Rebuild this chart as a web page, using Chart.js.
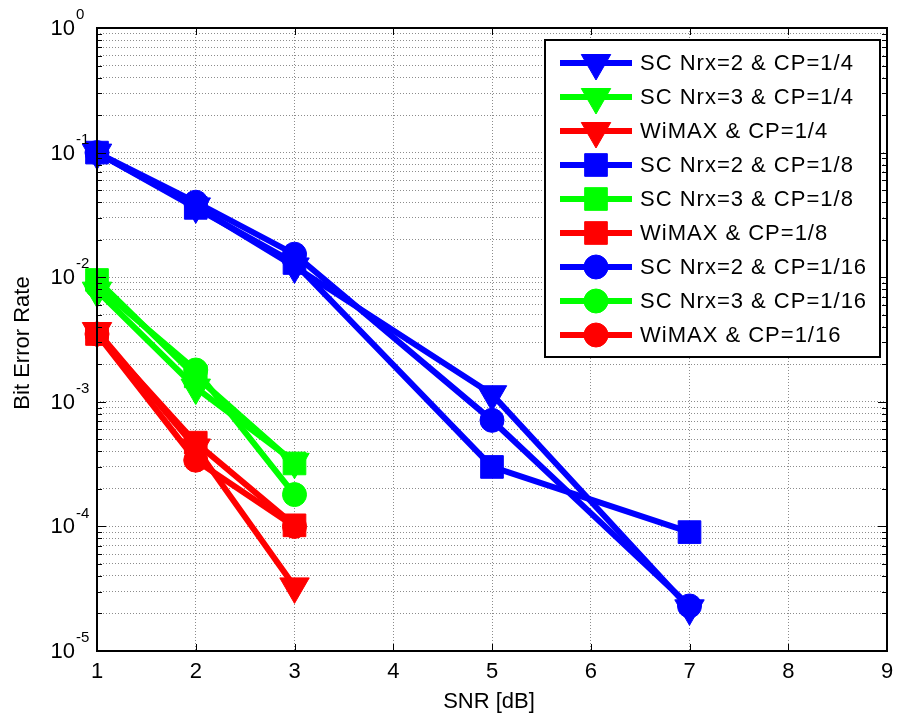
<!DOCTYPE html>
<html>
<head>
<meta charset="utf-8">
<script src="https://cdn.jsdelivr.net/npm/chart.js@4.4.1/dist/chart.umd.min.js"></script>
<style>
html, body { margin: 0; padding: 0; background: #fff; }
#wrap { width: 899px; height: 719px; }
</style>
</head>
<body>
<div id="wrap"><canvas id="berChart" width="899" height="719"></canvas></div>
<script>
// SNR points
const snrLong = [1, 2, 3, 5, 7];
const snrShort = [1, 2, 3];

// BER values
const nrx2Cp4 = [0.100, 0.037, 0.0122, 0.00115, 0.000022];
const nrx3Cp4 = [0.0078, 0.0013, 0.00033];
const wimaxCp4 = [0.0037, 0.00043, 0.000033];
const nrx2Cp8 = [0.100, 0.036, 0.013, 0.00030, 0.000090];
const nrx3Cp8 = [0.0095, 0.0016, 0.00032];
const wimaxCp8 = [0.0035, 0.00047, 0.000102];
const nrx2Cp16 = [0.100, 0.040, 0.0153, 0.00071, 0.000023];
const nrx3Cp16 = [0.0085, 0.0018, 0.00018];
const wimaxCp16 = [0.0035, 0.00034, 0.000100];

const seriesNames = [
    'SC Nrx=2 & CP=1/4', 'SC Nrx=3 & CP=1/4', 'WiMAX & CP=1/4',
    'SC Nrx=2 & CP=1/8', 'SC Nrx=3 & CP=1/8', 'WiMAX & CP=1/8',
    'SC Nrx=2 & CP=1/16', 'SC Nrx=3 & CP=1/16', 'WiMAX & CP=1/16'
];

// axis ticks
const xTicks = [1, 2, 3, 4, 5, 6, 7, 8, 9];
const yDecades = [-5, -4, -3, -2, -1, 0];
const yMinor = [1, 2, 3, 4, 5, 6, 7, 8, 9];

const FONT = '"Liberation Sans", Arial, sans-serif';
const BLUE = '#0000ff', GREEN = '#00ff00', RED = '#ff0000';

// big markers would otherwise push the plot area in from the right edge
Chart.registry.getController('line').prototype.getMaxOverflow = function () { return 0; };

function pts(xs, ys) {
    return xs.map((x, i) => ({ x: x, y: ys[i] }));
}

const marker = {
    tri: { pointStyle: 'triangle', radius: 17, rotation: 180 },
    sq: { pointStyle: 'rect', radius: 16, rotation: 0 },
    circ: { pointStyle: 'circle', radius: 12, rotation: 0 }
};

const seriesDefs = [
    [snrLong, nrx2Cp4, BLUE, marker.tri],
    [snrShort, nrx3Cp4, GREEN, marker.tri],
    [snrShort, wimaxCp4, RED, marker.tri],
    [snrLong, nrx2Cp8, BLUE, marker.sq],
    [snrShort, nrx3Cp8, GREEN, marker.sq],
    [snrShort, wimaxCp8, RED, marker.sq],
    [snrLong, nrx2Cp16, BLUE, marker.circ],
    [snrShort, nrx3Cp16, GREEN, marker.circ],
    [snrShort, wimaxCp16, RED, marker.circ]
];

const datasets = seriesDefs.map((d, i) => ({
    label: seriesNames[i],
    data: pts(d[0], d[1]),
    borderColor: d[2],
    backgroundColor: d[2],
    borderWidth: 6,
    pointStyle: d[3].pointStyle,
    pointRadius: d[3].radius,
    pointRotation: d[3].rotation,
    pointBorderWidth: 1,
    pointBackgroundColor: d[2],
    pointBorderColor: d[2],
    tension: 0,
    clip: false,
    order: 9 - i
}));

function drawMarker(ctx, m, color, x, y) {
    ctx.save();
    ctx.fillStyle = color;
    ctx.strokeStyle = color;
    ctx.lineWidth = 1;
    ctx.beginPath();
    if (m.pointStyle === 'circle') {
        ctx.arc(x, y, m.radius, 0, Math.PI * 2);
    } else if (m.pointStyle === 'rect') {
        const s = m.radius * Math.SQRT1_2;
        ctx.rect(x - s, y - s, 2 * s, 2 * s);
    } else {
        let a = m.rotation * Math.PI / 180;
        ctx.moveTo(x + Math.sin(a) * m.radius, y - Math.cos(a) * m.radius);
        a += Math.PI * 2 / 3;
        ctx.lineTo(x + Math.sin(a) * m.radius, y - Math.cos(a) * m.radius);
        a += Math.PI * 2 / 3;
        ctx.lineTo(x + Math.sin(a) * m.radius, y - Math.cos(a) * m.radius);
        ctx.closePath();
    }
    ctx.fill();
    ctx.stroke();
    ctx.restore();
}

// box, inside ticks, y labels with exponents, titles, legend
const matlabLook = {
    id: 'matlabLook',
    afterDraw(chart) {
        const ctx = chart.ctx;
        const a = chart.chartArea;
        const xs = chart.scales.x, ys = chart.scales.y;
        ctx.save();

        ctx.strokeStyle = '#000';
        ctx.lineWidth = 1;
        ctx.beginPath();
        xTicks.forEach(v => {
            const px = Math.round(xs.getPixelForValue(v)) + 0.5;
            ctx.moveTo(px, a.bottom); ctx.lineTo(px, a.bottom - 7);
            ctx.moveTo(px, a.top); ctx.lineTo(px, a.top + 7);
        });
        yDecades.forEach(e => {
            yMinor.forEach(m => {
                const v = m * Math.pow(10, e);
                if (v > 1) return;
                const py = Math.round(ys.getPixelForValue(v)) + 0.5;
                const len = m === 1 ? 9 : 5;
                ctx.moveTo(a.left, py); ctx.lineTo(a.left + len, py);
                ctx.moveTo(a.right, py); ctx.lineTo(a.right - len, py);
            });
        });
        ctx.stroke();

        ctx.lineWidth = 2;
        ctx.strokeRect(a.left, a.top, a.right - a.left, a.bottom - a.top);

        ctx.fillStyle = '#000';
        ctx.textBaseline = 'middle';
        yDecades.forEach(e => {
            const py = ys.getPixelForValue(Math.pow(10, e));
            ctx.font = '22px ' + FONT;
            ctx.textAlign = 'right';
            ctx.fillText('10', 75, py + 1);
            ctx.font = '15px ' + FONT;
            ctx.textAlign = 'left';
            ctx.fillText(String(e), 76, py - 13);
        });

        ctx.font = '22px ' + FONT;
        ctx.textAlign = 'center';
        ctx.fillText('SNR [dB]', 489, 702);
        ctx.save();
        ctx.translate(23, 343);
        ctx.rotate(-Math.PI / 2);
        ctx.fillText('Bit Error Rate', 0, 0);
        ctx.restore();

        // legend
        const lx = 545, ly = 40, lw = 335, lh = 317;
        ctx.fillStyle = '#fff';
        ctx.fillRect(lx, ly, lw, lh);
        ctx.strokeStyle = '#000';
        ctx.lineWidth = 2;
        ctx.strokeRect(lx, ly, lw, lh);
        seriesDefs.forEach((d, i) => {
            const ry = 63 + i * 34;
            ctx.strokeStyle = d[2];
            ctx.lineWidth = 6;
            ctx.beginPath();
            ctx.moveTo(560, ry); ctx.lineTo(632, ry);
            ctx.stroke();
            drawMarker(ctx, d[3], d[2], 596, ry);
            ctx.fillStyle = '#000';
            ctx.font = '22px ' + FONT;
            ctx.letterSpacing = '1px';
            ctx.textAlign = 'left';
            ctx.textBaseline = 'middle';
            ctx.fillText(seriesNames[i], 640, ry + 1);
            ctx.letterSpacing = '0px';
        });
        ctx.restore();
    }
};

new Chart(document.getElementById('berChart'), {
    type: 'line',
    data: { datasets: datasets },
    plugins: [matlabLook],
    options: {
        responsive: false,
        animation: false,
        layout: { padding: { left: 0, top: 28, right: 12, bottom: 0 } },
        plugins: { legend: { display: false }, tooltip: { enabled: false } },
        scales: {
            x: {
                type: 'linear',
                min: 1,
                max: 9,
                afterBuildTicks: s => { s.ticks = xTicks.map(v => ({ value: v })); },
                afterFit: s => { s.height = 68; s.paddingLeft = 0; s.paddingRight = 0; },
                ticks: { color: '#000', font: { size: 22, family: FONT }, padding: 8, autoSkip: false, maxRotation: 0 },
                grid: { color: 'rgba(0,0,0,0.45)', lineWidth: 1, drawTicks: false },
                border: { display: false, dash: [1, 2] }
            },
            y: {
                type: 'logarithmic',
                min: 1e-5,
                max: 1,
                afterBuildTicks: s => {
                    const t = [];
                    yDecades.forEach(e => yMinor.forEach(m => {
                        const v = m * Math.pow(10, e);
                        if (v <= 1) t.push({ value: v });
                    }));
                    s.ticks = t;
                },
                afterFit: s => { s.width = 97; s.paddingTop = 0; s.paddingBottom = 0; },
                ticks: { display: false, autoSkip: false },
                grid: { color: 'rgba(0,0,0,0.45)', lineWidth: 1, drawTicks: false },
                border: { display: false, dash: [1, 2] }
            }
        }
    }
});
</script>
</body>
</html>
